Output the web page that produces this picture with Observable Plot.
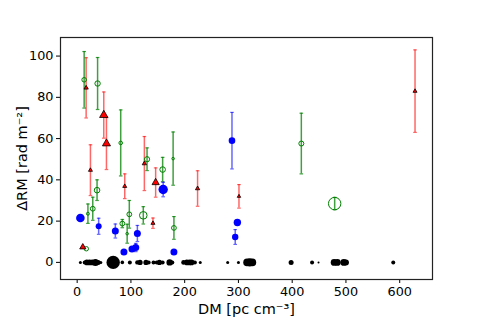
<!DOCTYPE html>
<html><head><meta charset="utf-8">
<script src="https://cdn.jsdelivr.net/npm/d3@7"></script>
<script src="https://cdn.jsdelivr.net/npm/@observablehq/plot@0.6"></script>
<style>
body{margin:0;background:#fff}
#chart svg text{font-size:12.8px !important;font-family:"DejaVu Sans" !important}
#chart svg g[aria-label="x-axis label"] text, #chart svg g[aria-label="y-axis label"] text{font-size:14.5px !important}
</style>
</head><body><div id="chart"></div>
<script>
// Black: RM = 0, no error
const blackDM = [6,14,18,23,28,34,39,44,67,84,98,112,117,128,133,142,148,153,159,172,177,198,204,209,213,219,229,280,300,316,321,326,398,437,449,478,484,496,500,588];
const blackR  = [1.5,2,2.8,2.8,2.8,3.5,2.5,1.5,6.7,1.8,2,2.2,2.6,2.6,2,2,2,2.6,2,3.2,2,2.4,2.8,2.8,2.8,2,1.5,1.5,1.5,3.8,4.2,3.8,2.5,2,1,3.4,3.4,3.4,3,2];
// Blue filled circles
const blueDM  = [6,40,71,87,102,109,112,160,180,288,298,294];
const blueRM  = [21.5,17.5,15.2,5,6.5,7.2,14,35.3,5,59,19.3,12.3];
const blueErr = [1,3.9,3.4,0,0,2,3.9,3.5,0,13.7,1,3.6];
const blueR   = [4.3,3,3.5,3.5,3.5,3.5,3.5,4.7,3.5,3.3,3.7,3.2];
// Green open circles
const greenDM  = [13,38,81,130,159,178.5,37,20,29,84,93,97,123,180,17,417,479];
const greenRM  = [88.5,86.7,57.9,50,45,50.3,35,23.6,26,18.8,13.9,23.3,22.8,16.7,6.6,57.6,28.5];
const greenErr = [13.7,12.6,16,5.5,5.9,12.9,5,4.7,5.6,2,4.6,6.7,4.2,5.5,0,14.7,3];
const greenR   = [2.3,2.7,1.8,2.6,2.8,1.3,2.8,1.5,2.4,2.4,1.3,2.4,3.8,2.4,2.2,2.5,6.2];
// Red triangles
const redDM  = [16.7,49.5,54.5,24.7,88.5,125,146,224,141,10.5,301,628.5];
const redRM  = [84.6,71.4,57.6,44.7,36.9,47.9,38.7,35.8,19,7.4,32,83];
const redErr = [14.6,11.2,12.6,12.3,6,13.1,7.1,8.6,2.5,0,5.7,20];
const redR   = [1.6,3.1,3.0,1.5,1.5,1.6,2.7,1.6,1.5,2.3,1.3,1.5];

const xTicks = [0,100,200,300,400,500,600];
const yTicks = [0,20,40,60,80,100];

const mk = (dm, rm, err, r) => dm.map((d,i)=>({dm:d, rm:rm[i], err:err?err[i]:0, r:r[i]}));
const black = mk(blackDM, blackDM.map(()=>0), null, blackR);
const blue = mk(blueDM, blueRM, blueErr, blueR);
const green = mk(greenDM, greenRM, greenErr, greenR);
const red = mk(redDM, redRM, redErr, redR);

const cap = {draw(ctx, size){ const w = Math.sqrt(size/Math.PI); ctx.moveTo(-w,0); ctx.lineTo(w,0);} };

function errMarks(data, color, op){
  const d = data.filter(p=>p.err>0);
  return [
    Plot.ruleX(d, {x:"dm", y1:p=>p.rm-p.err, y2:p=>p.rm+p.err, stroke:color, strokeOpacity:op, strokeWidth:1.5}),
    Plot.dot(d, {x:"dm", y:p=>p.rm-p.err, r:1.8, symbol:cap, stroke:color, strokeOpacity:op, strokeWidth:1.2, fill:"none"}),
    Plot.dot(d, {x:"dm", y:p=>p.rm+p.err, r:1.8, symbol:cap, stroke:color, strokeOpacity:op, strokeWidth:1.2, fill:"none"})
  ];
}

const chart = Plot.plot({
  width:480, height:320,
  marginLeft:60, marginRight:48, marginTop:37, marginBottom:41,
  style:{fontFamily:"DejaVu Sans", fontSize:"12.8px", background:"#fff", color:"#000"},
  x:{domain:[-31,661]},
  y:{domain:[-8.3,109]},
  r:{type:"identity"},
  marks:[
    Plot.axisX({ticks:xTicks, tickSize:4, tickPadding:3, label:"DM [pc cm⁻³]", labelAnchor:"center", labelArrow:"none", labelOffset:34}),
    Plot.axisY({ticks:yTicks, tickSize:4, tickPadding:3, label:"ΔRM [rad m⁻²]", labelAnchor:"center", labelArrow:"none", labelOffset:44}),
    Plot.dot(black, {x:"dm", y:"rm", r:"r", fill:"black", stroke:"none"}),
    ...errMarks(red, "red", 0.6),
    ...errMarks(green, "green", 0.75),
    ...errMarks(blue, "blue", 0.6),
    Plot.dot(blue, {x:"dm", y:"rm", r:"r", fill:"blue", stroke:"none"}),
    Plot.dot(green, {x:"dm", y:"rm", r:"r", fill:"none", stroke:"green", strokeWidth:1}),
    Plot.dot(red, {x:"dm", y:"rm", r:"r", symbol:"triangle", fill:"red", stroke:"black", strokeWidth:0.8}),
    Plot.frame({stroke:"#222", strokeWidth:1.2})
  ]
});
document.getElementById("chart").appendChild(chart);
</script></body></html>
